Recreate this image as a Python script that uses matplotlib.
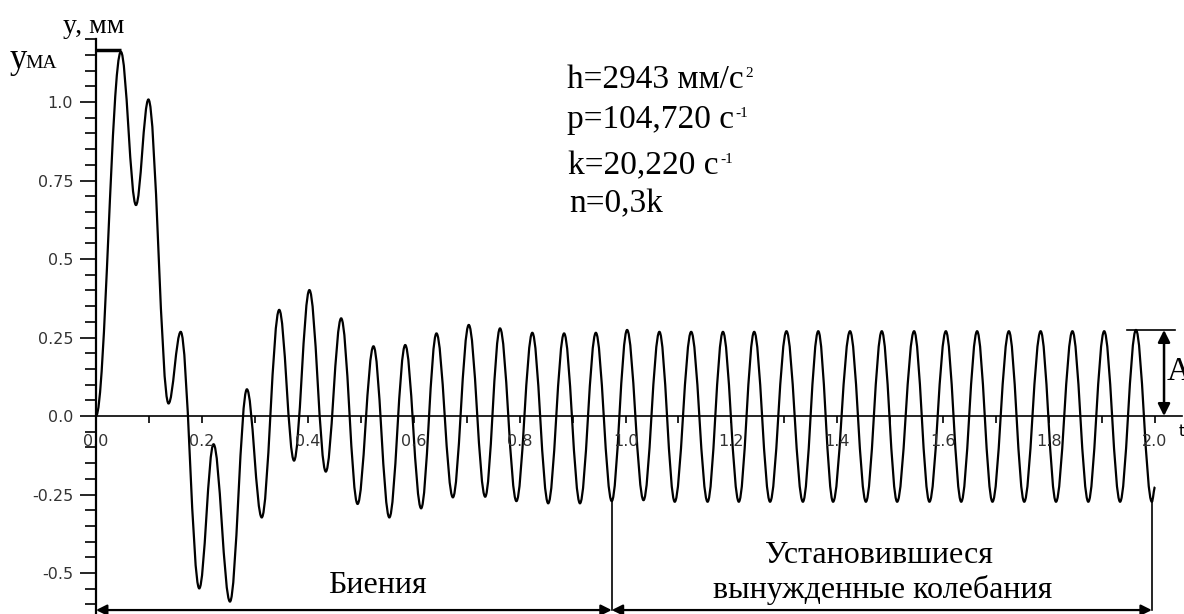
import numpy as np
import matplotlib.pyplot as plt
from matplotlib.path import Path
from matplotlib.patches import PathPatch
from matplotlib.ticker import MultipleLocator

# extrema of the curve y(t) (t in s, y in mm)
t_ext = [0.000, 0.047, 0.0755, 0.099, 0.137, 0.160, 0.195, 0.222, 0.253, 0.285,
         0.313, 0.346, 0.374, 0.403, 0.434, 0.463, 0.494, 0.524, 0.554, 0.584,
         0.614, 0.643, 0.674, 0.704, 0.735, 0.763, 0.794, 0.824, 0.854, 0.884,
         0.914, 0.944, 0.974, 1.003, 1.034, 1.064, 1.093, 1.124, 1.155, 1.184,
         1.214, 1.243, 1.273, 1.304, 1.335, 1.364, 1.392, 1.424, 1.454, 1.484,
         1.513, 1.545, 1.574, 1.605, 1.634, 1.664, 1.693, 1.724, 1.753, 1.784,
         1.813, 1.844, 1.874, 1.904, 1.934, 1.964, 1.994, 2.000]
y_ext = [0.000, 1.160, 0.672, 1.008, 0.040, 0.268, -0.549, -0.090, -0.591, 0.085,
         -0.323, 0.338, -0.142, 0.401, -0.177, 0.311, -0.280, 0.222, -0.323, 0.226,
         -0.294, 0.263, -0.259, 0.290, -0.257, 0.279, -0.271, 0.265, -0.278, 0.263,
         -0.278, 0.265, -0.271, 0.274, -0.268, 0.268, -0.273, 0.268, -0.273, 0.268,
         -0.273, 0.268, -0.273, 0.270, -0.273, 0.270, -0.273, 0.270, -0.273, 0.270,
         -0.273, 0.270, -0.273, 0.270, -0.273, 0.270, -0.273, 0.270, -0.273, 0.270,
         -0.273, 0.270, -0.273, 0.270, -0.273, 0.274, -0.273, -0.226]

ytick_vals = [-0.5, -0.25, 0.0, 0.25, 0.5, 0.75, 1.0]
ytick_labels = ['-0.5', '-0.25', '0.0', '0.25', '0.5', '0.75', '1.0']
xtick_vals = np.arange(0, 2.01, 0.2)
xtick_labels = ['0.0', '0.2', '0.4', '0.6', '0.8', '1.0', '1.2', '1.4', '1.6', '1.8', '2.0']

params = [('h=2943 мм/с', '2'), ('p=104,720 с', '-1'), ('k=20,220 с', '-1'), ('n=0,3k', '')]

y_ma = 1.166
t_ma = 0.047
t_split = 0.974
t_end = 1.994
amp = 0.274

serif = 'Liberation Serif'

fig = plt.figure(figsize=(11.84, 6.14), dpi=100)
ax = fig.add_axes([96 / 1184, 0.0003, 1085.5 / 1184, 0.9358])
ax.set_xlim(0, 2.05)
ax.set_ylim(-0.63, 1.2)

# smooth curve through the extrema (flat tangent at every extremum)
verts = [(t_ext[0], y_ext[0])]
codes = [Path.MOVETO]
for i in range(1, len(t_ext)):
    dt = t_ext[i] - t_ext[i - 1]
    verts += [(t_ext[i - 1] + 0.36 * dt, y_ext[i - 1]),
              (t_ext[i] - 0.36 * dt, y_ext[i]),
              (t_ext[i], y_ext[i])]
    codes += [Path.CURVE4] * 3
ax.add_patch(PathPatch(Path(verts, codes), fill=False, lw=1.6, ec='black'))

# axes
for s in ['top', 'right']:
    ax.spines[s].set_visible(False)
ax.spines['bottom'].set_position(('data', 0))
ax.spines['bottom'].set_linewidth(1.2)
ax.spines['left'].set_linewidth(1.6)

ax.set_yticks(ytick_vals)
ax.set_yticklabels(ytick_labels)
ax.yaxis.set_minor_locator(MultipleLocator(0.05))
ax.set_xticks(xtick_vals)
ax.set_xticklabels(xtick_labels)
ax.xaxis.set_minor_locator(MultipleLocator(0.1))
ax.tick_params(axis='y', which='major', direction='out', length=11.5, width=1.2,
               pad=5, labelsize=11.5, labelcolor='#333')
ax.tick_params(axis='y', which='minor', direction='out', length=8, width=1.2)
ax.tick_params(axis='x', which='both', direction='out', length=5, width=1.2,
               pad=8, labelsize=11.5, labelcolor='#333')

# y_MA mark
ax.plot([0, t_ma], [y_ma, y_ma], color='black', lw=2.5, solid_capstyle='butt')

# amplitude A
ax.plot([1.947, 2.038], [amp, amp], color='black', lw=1.2, clip_on=False)
ax.annotate('', xy=(2.017, 0.0), xytext=(2.017, amp),
            arrowprops=dict(arrowstyle='<|-|>', lw=1.8, color='black',
                            mutation_scale=18, shrinkA=0, shrinkB=0),
            annotation_clip=False)
ax.text(2.022, 0.14, 'A', fontsize=24, family=serif, va='center',
        ha='left', clip_on=False)
ax.text(2.045, -0.05, 't', fontsize=11.5, va='center', ha='left', clip_on=False)

# regions below the curve
y_arr = -0.618
ax.plot([t_split, t_split], [-0.271, y_arr], color='black', lw=1.2, clip_on=False)
ax.plot([t_end, t_end], [-0.273, y_arr], color='black', lw=1.2, clip_on=False)
for a, b in [(0, t_split), (t_split, t_end)]:
    ax.annotate('', xy=(a, y_arr), xytext=(b, y_arr),
                arrowprops=dict(arrowstyle='<|-|>', lw=1.6, color='black',
                                mutation_scale=16, shrinkA=0, shrinkB=0),
                annotation_clip=False)

fig.text(377 / 1184, 1 - 593 / 614, 'Биения', fontsize=23, family=serif,
         ha='center', va='baseline')
fig.text(879 / 1184, 1 - 563 / 614, 'Установившиеся', fontsize=23, family=serif,
         ha='center', va='baseline')
fig.text(883 / 1184, 1 - 598 / 614, 'вынужденные колебания', fontsize=23,
         family=serif, ha='center', va='baseline')

# axis title and y_MA label
fig.text(63 / 1184, 1 - 33 / 614, 'y, мм', fontsize=20, family=serif, va='baseline')
fig.text(10 / 1184, 1 - 68 / 614, 'y', fontsize=25, family=serif, va='baseline')
fig.text(25 / 1184, 1 - 68 / 614, 'MA', fontsize=14, family=serif, va='baseline')

# parameters, superscripts placed right after each line
baselines = [88, 128, 174, 212]
lefts = [567, 567, 568, 569]
for (txt, sup), yb, xl in zip(params, baselines, lefts):
    t = fig.text(xl / 1184, 1 - yb / 614, txt, fontsize=24, family=serif,
                 va='baseline')
    if sup:
        ax.annotate(sup, xy=(1.0, 0.92), xycoords=t, xytext=(1, 0),
                    textcoords='offset points', fontsize=11, family=serif,
                    va='top', ha='left')

fig.savefig('out.png', dpi=100)
